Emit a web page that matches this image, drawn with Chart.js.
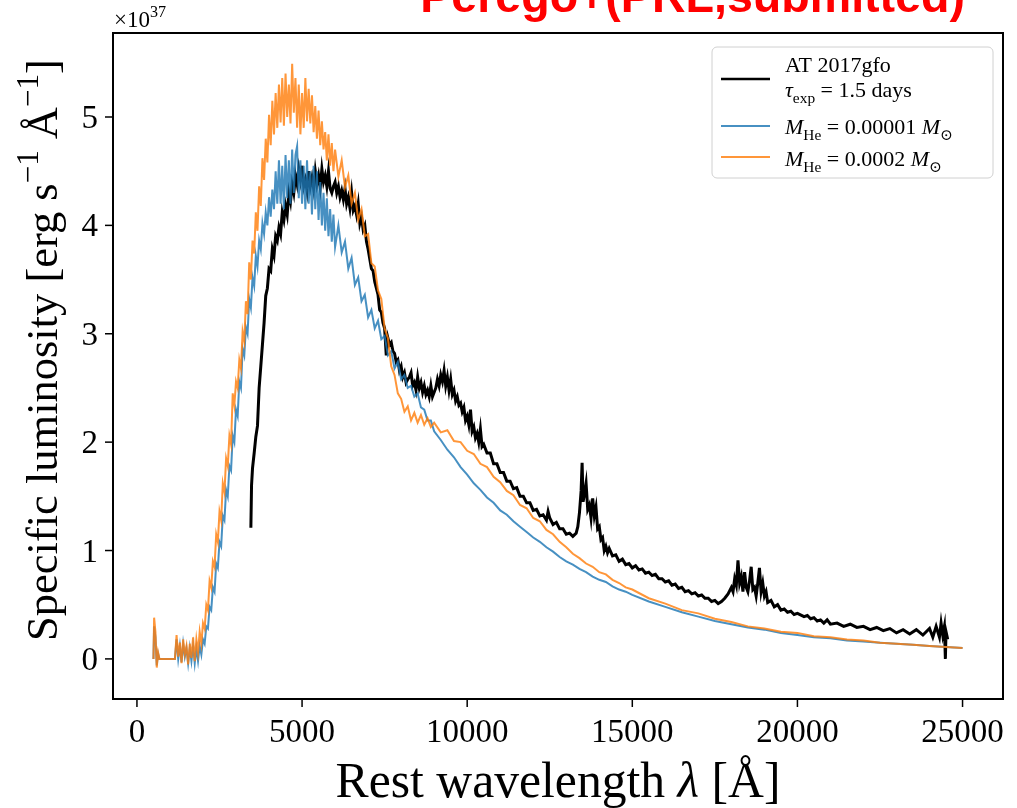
<!DOCTYPE html>
<html>
<head>
<meta charset="utf-8">
<script src="https://cdn.jsdelivr.net/npm/chart.js@4.4.1/dist/chart.umd.min.js"></script>
<style>
html, body { margin: 0; padding: 0; background: #fff; }
#wrap { width: 1017px; height: 808px; }
</style>
</head>
<body>
<div id="wrap"><canvas id="specChart" width="1017" height="808"></canvas></div>
<script>
// Spectra (luminosity in units of 1e37 erg/s/A)
const modelWl = [
    500, 520, 560, 600, 640, 680, 1150, 1200, 1250, 1300,
    1350, 1400, 1450, 1500, 1550, 1600, 1650, 1700, 1750, 1800,
    1850, 1900, 1950, 2000, 2050, 2100, 2150, 2200, 2250, 2300,
    2350, 2400, 2450, 2500, 2550, 2600, 2650, 2700, 2750, 2800,
    2850, 2900, 2950, 3000, 3050, 3100, 3150, 3200, 3250, 3300,
    3350, 3400, 3450, 3500, 3550, 3600, 3650, 3700, 3750, 3800,
    3850, 3900, 3950, 4000, 4050, 4100, 4150, 4200, 4250, 4300,
    4350, 4400, 4450, 4500, 4550, 4600, 4650, 4700, 4750, 4800,
    4850, 4900, 4950, 5000, 5050, 5100, 5150, 5200, 5250, 5300,
    5350, 5400, 5450, 5500, 5550, 5600, 5650, 5700, 5750, 5800,
    5850, 5900, 5950, 6000, 6100, 6200, 6300, 6400, 6500, 6600,
    6700, 6800, 6900, 7000, 7100, 7200, 7300, 7400, 7500, 7600,
    7700, 7800, 7900, 8000, 8100, 8200, 8300, 8400, 8500, 8600,
    8700, 8800, 8900, 9000, 9200, 9400, 9600, 9800, 10000, 10200,
    10400, 10600, 10800, 11000, 11200, 11400, 11600, 11800, 12000, 12200,
    12400, 12600, 12800, 13000, 13200, 13400, 13600, 13800, 14000, 14200,
    14400, 14600, 14800, 15000, 15500, 16000, 16500, 17000, 17500, 18000,
    18500, 19000, 19500, 20000, 20500, 21000, 21500, 22000, 22500, 23000,
    23500, 24000, 24500, 25000
];

// M_He = 0.00001 Msun
const blueLum = [
    0.0, 0.3, 0.2, -0.06, 0.05, 0.0, 0.0, 0.18, 0.0, 0.12,
    -0.03, 0.14, 0.02, 0.1, -0.04, 0.1, -0.02, 0.12, -0.04, 0.1,
    -0.02, 0.12, 0.04, 0.18, 0.14, 0.3, 0.28, 0.48, 0.45, 0.66,
    0.62, 0.88, 0.84, 1.08, 1.04, 1.32, 1.28, 1.56, 1.5, 1.78,
    1.74, 2.06, 2.0, 2.3, 2.24, 2.56, 2.5, 2.86, 2.8, 3.06,
    3.0, 3.32, 3.24, 3.52, 3.44, 3.72, 3.62, 3.86, 3.78, 4.02,
    3.92, 4.12, 4.0, 4.26, 4.08, 4.33, 4.15, 4.5, 4.2, 4.6,
    4.2, 4.55, 4.15, 4.65, 4.25, 4.6, 4.2, 4.7, 4.3, 4.65,
    4.73, 4.25, 4.6, 4.2, 4.55, 4.15, 4.6, 4.2, 4.5, 4.1,
    4.55, 4.15, 4.5, 4.05, 4.4, 4.0, 4.3, 3.95, 4.25, 3.9,
    4.15, 3.85, 4.1, 3.8, 4.0, 3.75, 3.85, 3.6, 3.7, 3.45,
    3.52, 3.3, 3.36, 3.15, 3.22, 3.05, 3.12, 2.95, 2.98, 2.8,
    2.84, 2.68, 2.74, 2.58, 2.62, 2.5, 2.52, 2.42, 2.45, 2.32,
    2.3, 2.2, 2.2, 2.1, 2.02, 1.93, 1.86, 1.77, 1.7, 1.62,
    1.56, 1.49, 1.44, 1.37, 1.33, 1.27, 1.22, 1.17, 1.12, 1.08,
    1.03, 0.99, 0.94, 0.9, 0.87, 0.83, 0.8, 0.76, 0.73, 0.71,
    0.67, 0.64, 0.62, 0.59, 0.53, 0.48, 0.43, 0.39, 0.35, 0.32,
    0.29, 0.27, 0.24, 0.22, 0.2, 0.19, 0.17, 0.16, 0.15, 0.14,
    0.13, 0.12, 0.11, 0.1
];

// M_He = 0.0002 Msun
const orangeLum = [
    0.0, 0.38, 0.25, -0.08, 0.06, 0.0, 0.0, 0.22, 0.02, 0.15,
    -0.04, 0.18, 0.04, 0.12, -0.05, 0.14, 0.01, 0.2, -0.02, 0.18,
    0.06, 0.25, 0.14, 0.33, 0.28, 0.5, 0.45, 0.72, 0.66, 0.9,
    0.85, 1.15, 1.08, 1.36, 1.28, 1.62, 1.54, 1.85, 1.78, 2.06,
    1.98, 2.45, 2.34, 2.56, 2.5, 2.76, 2.68, 3.02, 2.93, 3.3,
    3.18, 3.66, 3.5, 3.86, 3.74, 4.12, 3.95, 4.36, 4.18, 4.62,
    4.42, 4.8, 4.58, 5.02, 4.74, 5.15, 4.84, 5.22, 4.9, 5.3,
    4.95, 5.36, 4.92, 5.4, 5.0, 5.3, 4.94, 5.49, 5.04, 5.36,
    4.9, 5.3, 4.84, 5.22, 4.9, 5.36, 4.96, 5.26, 4.94, 5.2,
    4.86, 5.1, 4.8, 5.06, 4.74, 4.96, 4.7, 4.86, 4.6, 4.84,
    4.55, 4.76, 4.5, 4.7, 4.45, 4.6, 4.35, 4.46, 4.2, 4.3,
    4.05, 4.15, 3.9, 3.92, 3.65, 3.62, 3.4, 3.32, 3.05, 2.96,
    2.7, 2.62, 2.45, 2.4, 2.28, 2.33, 2.2, 2.27, 2.18, 2.25,
    2.16, 2.22, 2.14, 2.18, 2.09, 2.11, 2.01, 2.0, 1.92, 1.89,
    1.8, 1.77, 1.68, 1.63, 1.55, 1.51, 1.42, 1.39, 1.3, 1.27,
    1.19, 1.15, 1.08, 1.03, 0.97, 0.93, 0.88, 0.85, 0.8, 0.78,
    0.73, 0.7, 0.66, 0.64, 0.56, 0.51, 0.45, 0.42, 0.37, 0.34,
    0.3, 0.28, 0.25, 0.24, 0.21, 0.2, 0.18, 0.17, 0.15, 0.14,
    0.13, 0.12, 0.11, 0.1
];

// AT 2017gfo observed spectrum
const gfoWl = [
    3450, 3470, 3500, 3550, 3600, 3650, 3700, 3750, 3800, 3850,
    3900, 3950, 4000, 4050, 4100, 4150, 4200, 4250, 4300, 4350,
    4400, 4450, 4500, 4550, 4600, 4650, 4700, 4750, 4800, 4850,
    4900, 4950, 5000, 5050, 5100, 5150, 5200, 5250, 5300, 5350,
    5400, 5450, 5500, 5550, 5600, 5650, 5700, 5750, 5800, 5850,
    5900, 5950, 6000, 6050, 6100, 6150, 6200, 6250, 6300, 6350,
    6400, 6450, 6500, 6550, 6600, 6650, 6700, 6750, 6800, 6850,
    6900, 6950, 7000, 7100, 7150, 7200, 7250, 7300, 7350, 7400,
    7450, 7500, 7550, 7600, 7650, 7700, 7750, 7800, 7850, 7900,
    7950, 8000, 8050, 8100, 8150, 8200, 8250, 8300, 8350, 8400,
    8450, 8500, 8550, 8600, 8650, 8700, 8750, 8800, 8850, 8900,
    8950, 9000, 9050, 9100, 9150, 9200, 9250, 9300, 9350, 9400,
    9450, 9500, 9550, 9600, 9650, 9700, 9750, 9800, 9850, 9900,
    9950, 10000, 10050, 10100, 10150, 10200, 10250, 10300, 10350, 10400,
    10450, 10500, 10600, 10700, 10800, 10900, 11000, 11100, 11200, 11300,
    11400, 11500, 11600, 11700, 11800, 11900, 12000, 12100, 12200, 12300,
    12400, 12450, 12500, 12600, 12700, 12800, 12900, 13000, 13100, 13200,
    13300, 13350, 13400, 13450, 13480, 13510, 13550, 13600, 13650, 13700,
    13750, 13800, 13850, 13900, 13950, 14000, 14050, 14100, 14150, 14200,
    14250, 14300, 14400, 14500, 14600, 14700, 14800, 14900, 15000, 15100,
    15200, 15300, 15400, 15500, 15600, 15700, 15800, 15900, 16000, 16100,
    16200, 16300, 16400, 16500, 16600, 16700, 16800, 16900, 17000, 17100,
    17200, 17300, 17400, 17500, 17600, 17700, 17800, 17900, 18000, 18050,
    18100, 18150, 18200, 18250, 18300, 18350, 18400, 18450, 18500, 18550,
    18600, 18650, 18700, 18750, 18800, 18850, 18900, 18950, 19000, 19050,
    19100, 19200, 19300, 19400, 19500, 19600, 19700, 19800, 19900, 20000,
    20200, 20300, 20400, 20500, 20600, 20700, 20800, 20900, 21000, 21200,
    21400, 21600, 21800, 22000, 22200, 22400, 22600, 22800, 23000, 23200,
    23400, 23600, 23800, 24000, 24100, 24200, 24300, 24350, 24400, 24450,
    24480, 24500, 24550
];
const gfoLum = [
    1.21, 1.6, 1.76, 1.9, 2.05, 2.15, 2.5, 2.7, 2.9, 3.1,
    3.35, 3.42, 3.6, 3.58, 3.78, 3.72, 3.9, 3.86, 3.98, 3.92,
    4.12, 4.05, 4.18, 4.1, 4.3, 4.22, 4.38, 4.3, 4.46, 4.38,
    4.52, 4.42, 4.55, 4.36, 4.42, 4.32, 4.5, 4.36, 4.44, 4.34,
    4.5, 4.38, 4.46, 4.35, 4.52, 4.4, 4.46, 4.36, 4.5, 4.34,
    4.3, 4.36, 4.4, 4.3, 4.36, 4.26, 4.32, 4.24, 4.34, 4.2,
    4.26, 4.16, 4.3, 4.14, 4.18, 4.1, 4.2, 4.02, 4.08, 3.96,
    4.0, 3.85, 3.78, 3.6, 3.58, 3.48, 3.42, 3.36, 3.22, 3.2,
    3.1, 3.05, 2.8, 2.96, 2.9, 2.92, 2.84, 2.82, 2.74, 2.76,
    2.66, 2.7, 2.6, 2.64, 2.55, 2.58, 2.6, 2.64, 2.52, 2.55,
    2.48, 2.6, 2.5, 2.55, 2.46, 2.52, 2.44, 2.48, 2.42, 2.52,
    2.42, 2.46, 2.5, 2.58, 2.52, 2.62, 2.56, 2.66, 2.52, 2.6,
    2.48, 2.58, 2.44, 2.48, 2.38, 2.42, 2.34, 2.36, 2.28, 2.32,
    2.2, 2.24, 2.16, 2.3, 2.1, 2.14, 2.04, 2.08, 2.0, 2.12,
    1.96, 1.98, 1.9, 1.9, 1.8, 1.8, 1.72, 1.72, 1.64, 1.64,
    1.57, 1.58, 1.5, 1.5, 1.44, 1.44, 1.37, 1.38, 1.32, 1.33,
    1.28, 1.36, 1.3, 1.24, 1.26, 1.2, 1.2, 1.15, 1.16, 1.13,
    1.16, 1.22, 1.35, 1.55, 1.81, 1.45, 1.52, 1.62, 1.38, 1.42,
    1.3, 1.48, 1.32, 1.4, 1.2, 1.22, 1.1, 1.12, 1.0, 1.04,
    0.98, 1.02, 0.95, 0.96, 0.9, 0.92, 0.87, 0.88, 0.84, 0.86,
    0.82, 0.83, 0.79, 0.8, 0.77, 0.78, 0.74, 0.74, 0.71, 0.72,
    0.68, 0.69, 0.65, 0.66, 0.62, 0.63, 0.6, 0.61, 0.58, 0.59,
    0.56, 0.56, 0.53, 0.54, 0.51, 0.53, 0.56, 0.6, 0.66, 0.62,
    0.74, 0.68, 0.91, 0.7, 0.76, 0.62, 0.8, 0.66, 0.62, 0.72,
    0.85, 0.64, 0.66, 0.58, 0.7, 0.84, 0.62, 0.7, 0.58, 0.62,
    0.52, 0.54, 0.48, 0.5, 0.45, 0.46, 0.43, 0.44, 0.41, 0.42,
    0.39, 0.4, 0.37, 0.38, 0.35, 0.36, 0.33, 0.36, 0.32, 0.33,
    0.3, 0.32, 0.29, 0.3, 0.27, 0.29, 0.26, 0.28, 0.24, 0.27,
    0.23, 0.27, 0.22, 0.28, 0.2, 0.3, 0.2, 0.33, 0.22, 0.3,
    0.0, 0.25, 0.18
];

const xTickVals = [0, 5000, 10000, 15000, 20000, 25000];
const yTickVals = [0, 1, 2, 3, 4, 5];

const seriesNames = ["AT 2017gfo", "M_He = 0.00001 M_sun", "M_He = 0.0002 M_sun"];
const seriesColors = ["#000000", "rgba(31,119,180,0.82)", "rgba(255,127,14,0.82)"];
const titleText = "Perego+(PRL,submitted)";

function pts(xs, ys) {
    return xs.map((x, i) => ({ x: x, y: ys[i] }));
}

const serif = '"Liberation Serif", "DejaVu Serif", serif';

// draw text made of pieces (italic / sub / sup), returns width
function rich(ctx, segs, x, y, size, draw) {
    let cx = x;
    segs.forEach(s => {
        const small = s.sub || s.sup;
        const sz = small ? size * 0.7 : size;
        ctx.font = (s.it ? "italic " : "") + sz + "px " + serif;
        const dy = s.sub ? size * 0.28 : (s.sup ? -size * 0.42 : 0);
        if (draw) ctx.fillText(s.t, cx, y + dy);
        cx += ctx.measureText(s.t).width;
    });
    return cx - x;
}

function fitSize(ctx, segs, targetW) {
    const w = rich(ctx, segs, 0, 0, 40, false);
    return 40 * targetW / w;
}

const legendRows = [
    [[{ t: "AT 2017gfo" }], [{ t: "τ", it: true }, { t: "exp", sub: true }, { t: " = 1.5 days" }]],
    [[{ t: "M", it: true }, { t: "He", sub: true }, { t: " = 0.00001 " }, { t: "M", it: true }, { t: "⊙", sub: true }]],
    [[{ t: "M", it: true }, { t: "He", sub: true }, { t: " = 0.0002 " }, { t: "M", it: true }, { t: "⊙", sub: true }]]
];

const decorPlugin = {
    id: "decor",
    afterDraw(chart) {
        const ctx = chart.ctx;
        const a = chart.chartArea;
        const sx = chart.scales.x;
        const sy = chart.scales.y;
        ctx.save();

        // frame
        ctx.strokeStyle = "#000";
        ctx.lineWidth = 2;
        ctx.strokeRect(a.left, a.top, a.right - a.left, a.bottom - a.top);

        // ticks and tick labels
        ctx.lineWidth = 1.5;
        ctx.fillStyle = "#000";
        ctx.font = "33px " + serif;
        ctx.textBaseline = "alphabetic";
        ctx.textAlign = "center";
        xTickVals.forEach(v => {
            const px = sx.getPixelForValue(v);
            ctx.beginPath();
            ctx.moveTo(px, a.bottom);
            ctx.lineTo(px, a.bottom + 8);
            ctx.stroke();
            ctx.fillText(String(v), px, 742);
        });
        ctx.textAlign = "right";
        yTickVals.forEach(v => {
            const py = sy.getPixelForValue(v);
            ctx.beginPath();
            ctx.moveTo(a.left - 8, py);
            ctx.lineTo(a.left, py);
            ctx.stroke();
            ctx.fillText(String(v), a.left - 15, py + 11);
        });

        ctx.textAlign = "left";

        // offset text
        rich(ctx, [{ t: "×10" }, { t: "37", sup: true }], a.left + 1, 27, 23, true);

        // x title
        const xt = [{ t: "Rest wavelength " }, { t: "λ", it: true }, { t: " [Å]" }];
        const xs = fitSize(ctx, xt, 445);
        const xw = rich(ctx, xt, 0, 0, xs, false);
        rich(ctx, xt, (a.left + a.right) / 2 - xw / 2, 797, xs, true);

        // y title
        const yt = [{ t: "Specific luminosity [erg s" }, { t: "−1", sup: true }, { t: " Å" }, { t: "−1", sup: true }, { t: "]" }];
        const ys = fitSize(ctx, yt, 582);
        const yw = rich(ctx, yt, 0, 0, ys, false);
        ctx.save();
        ctx.translate(57, 350);
        ctx.rotate(-Math.PI / 2);
        rich(ctx, yt, -yw / 2, 0, ys, true);
        ctx.restore();

        // legend
        const lx = 712, ly = 47, lw = 281, lh = 131;
        ctx.beginPath();
        ctx.roundRect(lx, ly, lw, lh, 5);
        ctx.fillStyle = "rgba(255,255,255,0.8)";
        ctx.fill();
        ctx.strokeStyle = "#d0d0d0";
        ctx.lineWidth = 1;
        ctx.stroke();
        const lineY = [79, 126, 157];
        const textY = [[72, 97], [134], [166]];
        legendRows.forEach((row, i) => {
            ctx.strokeStyle = seriesColors[i];
            ctx.lineWidth = i === 0 ? 2.5 : 2;
            ctx.beginPath();
            ctx.moveTo(721, lineY[i]);
            ctx.lineTo(770, lineY[i]);
            ctx.stroke();
            ctx.fillStyle = "#000";
            row.forEach((segs, j) => rich(ctx, segs, 785, textY[i][j], 22, true));
        });

        // red title (cut by the top edge)
        ctx.fillStyle = "#ff0000";
        ctx.textAlign = "right";
        ctx.font = "bold 40px \"Liberation Sans\", Arial, sans-serif";
        const tw = ctx.measureText(titleText).width;
        const ts = 40 * 545 / tw;
        ctx.font = "bold " + ts + "px \"Liberation Sans\", Arial, sans-serif";
        ctx.fillText(titleText, 965, 12);

        ctx.restore();
    }
};

new Chart(document.getElementById("specChart"), {
    type: "line",
    data: {
        datasets: [
            {
                label: seriesNames[0],
                data: pts(gfoWl, gfoLum),
                borderColor: seriesColors[0],
                borderWidth: 3,
                order: 3
            },
            {
                label: seriesNames[1],
                data: pts(modelWl, blueLum),
                borderColor: seriesColors[1],
                borderWidth: 2,
                order: 2
            },
            {
                label: seriesNames[2],
                data: pts(modelWl, orangeLum),
                borderColor: seriesColors[2],
                borderWidth: 2,
                order: 1
            }
        ]
    },
    options: {
        responsive: false,
        animation: false,
        events: [],
        elements: {
            point: { radius: 0 },
            line: { tension: 0, fill: false }
        },
        layout: {
            padding: { left: 0, right: 14, top: 33, bottom: 0 }
        },
        plugins: {
            legend: { display: false },
            tooltip: { enabled: false }
        },
        scales: {
            x: {
                type: "linear",
                min: -725,
                max: 26225,
                border: { display: false },
                grid: { display: false },
                ticks: { display: false },
                afterFit: s => { s.height = 109; }
            },
            y: {
                type: "linear",
                min: -0.37,
                max: 5.775,
                border: { display: false },
                grid: { display: false },
                ticks: { display: false },
                afterFit: s => { s.width = 113; }
            }
        }
    },
    plugins: [decorPlugin]
});
</script>
</body>
</html>
